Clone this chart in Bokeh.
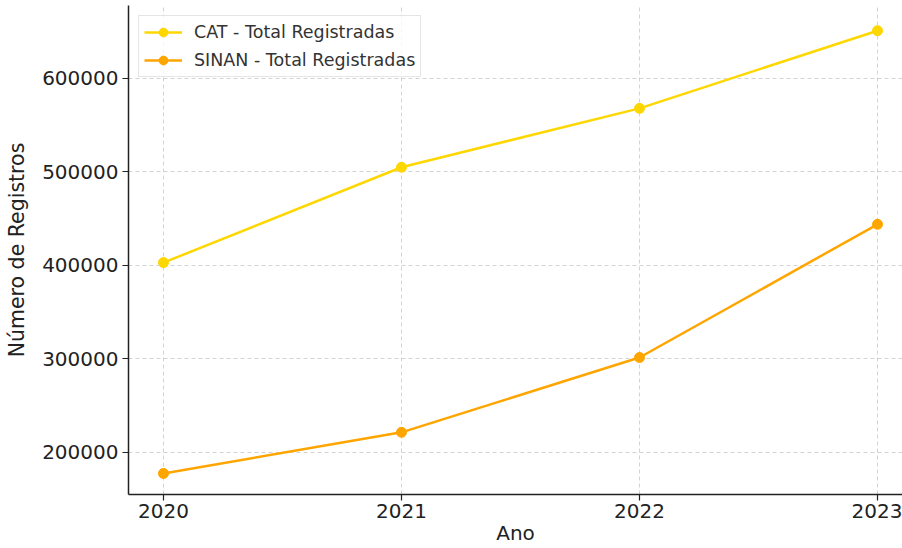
from bokeh.plotting import figure
from bokeh.models import FixedTicker, Range1d, Legend, LegendItem
from bokeh.embed import file_html
from bokeh.resources import INLINE

anos = [2020, 2021, 2022, 2023]
cat_total = [403000, 505000, 568000, 651000]
sinan_total = [177500, 221500, 301500, 444000]
y_ticks = [200000, 300000, 400000, 500000, 600000]

FONT = "DejaVu Sans"
TXT = "#222222"

p = figure(width=902, height=548, output_backend="svg", toolbar_location=None,
           x_range=Range1d(2019.853, 2023.105), y_range=Range1d(155000, 678000),
           min_border_left=128, min_border_right=0, min_border_top=5, min_border_bottom=54)
p.outline_line_color = None
p.background_fill_color = "white"
p.border_fill_color = "white"

r1l = p.line(anos, cat_total, line_color="#FFD700", line_width=2.5)
r1s = p.scatter(anos, cat_total, size=10, fill_color="#FFD700", line_color="#FFD700")
r2l = p.line(anos, sinan_total, line_color="#FFA500", line_width=2.5)
r2s = p.scatter(anos, sinan_total, size=10, fill_color="#FFA500", line_color="#FFA500")

legend = Legend(items=[LegendItem(label="CAT - Total Registradas", renderers=[r1l, r1s]),
                       LegendItem(label="SINAN - Total Registradas", renderers=[r2l, r2s])],
                location="top_left")
legend.margin = 10
legend.padding = 5
legend.spacing = 6
legend.label_height = 22
legend.glyph_height = 22
legend.glyph_width = 38
legend.label_standoff = 12
legend.label_text_font = FONT
legend.label_text_font_size = "17.5px"
legend.label_text_color = "#333333"
legend.border_line_color = "#cccccc"
legend.border_line_width = 1
legend.background_fill_alpha = 0.8
p.add_layout(legend)

for ax in (p.xaxis[0], p.yaxis[0]):
    ax.axis_line_color = "#222222"
    ax.axis_line_width = 1.5
    ax.major_tick_line_color = "#222222"
    ax.major_tick_line_width = 1.2
    ax.major_tick_out = 6
    ax.major_tick_in = 0
    ax.minor_tick_out = 0
    ax.minor_tick_in = 0
    ax.major_label_text_font = FONT
    ax.major_label_text_font_size = "20px"
    ax.major_label_text_color = TXT
    ax.axis_label_text_font = FONT
    ax.axis_label_text_font_size = "20px"
    ax.axis_label_text_font_style = "normal"
    ax.axis_label_text_color = TXT

p.yaxis.axis_label_text_font_size = "20.5px"
p.xaxis.ticker = FixedTicker(ticks=anos)
p.yaxis.ticker = FixedTicker(ticks=y_ticks)
p.xaxis.axis_label = "Ano"
p.yaxis.axis_label = "Número de Registros"
p.xaxis.major_label_standoff = 3
p.xaxis.axis_label_standoff = 0
p.yaxis.major_label_standoff = 4
p.yaxis.axis_label_standoff = 10
p.yaxis.formatter.use_scientific = False

p.grid.grid_line_color = "#b0b0b0"
p.grid.grid_line_alpha = 0.7
p.grid.grid_line_dash = "4 3"
p.grid.grid_line_width = 0.8

open("out.html", "w").write(file_html(p, INLINE))
